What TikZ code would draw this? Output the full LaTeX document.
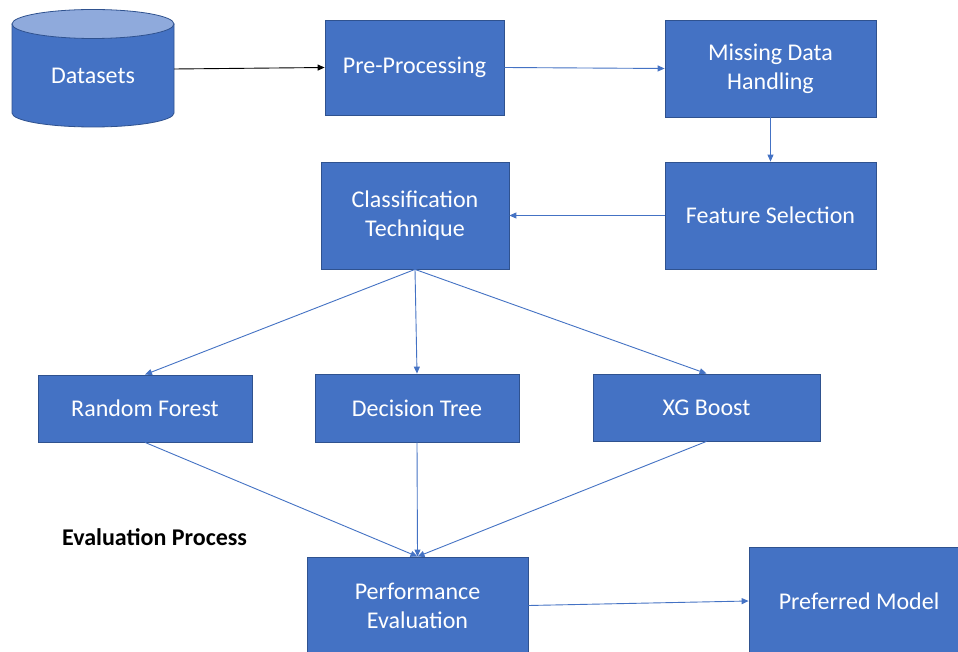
\documentclass[tikz,border=0pt]{standalone}
\usepackage{fontspec}
\setmainfont{Carlito}
\usetikzlibrary{arrows.meta}
\definecolor{boxblue}{HTML}{4472C4}
\definecolor{boxedge}{HTML}{2F528F}
\definecolor{toplight}{HTML}{8FAADC}
\definecolor{linkblue}{HTML}{4472C4}
\begin{document}
\begin{tikzpicture}[x=1pt,y=-1pt,
  every node/.style={font=\fontsize{24}{29}\selectfont},
  blk/.style={draw=boxedge, line width=0.8pt, fill=boxblue, text=white,
    align=center, inner sep=0pt},
  link/.style={draw=linkblue, line width=0.9pt,
    -{Triangle[length=7pt,width=6pt]}},
  blacklink/.style={draw=black, line width=0.9pt,
    -{Triangle[length=7pt,width=6pt]}}]
\useasboundingbox (0,0) rectangle (958,652);
\clip (0,0) rectangle (958,652);
\fill[white] (0,0) rectangle (958,652);

% database cylinder
\filldraw[fill=boxblue, draw=boxedge, line width=0.8pt]
  (12,24) -- (12,113)
  arc[start angle=180, end angle=360, x radius=81pt, y radius=14pt]
  -- (174,24) -- cycle;
\filldraw[fill=toplight, draw=boxedge, line width=0.8pt]
  (93,24) ellipse [x radius=81pt, y radius=14.5pt];
\node[minimum width=162pt, minimum height=117pt, inner sep=0pt] (ds) at (93,69) {};
\node[text=white] (dslabel) at (93,76) {Datasets};

% process boxes
\node[blk, minimum width=179pt, minimum height=95pt]  (pp) at (414.5,67.5) {Pre-Processing};
\node[blk, minimum width=211pt, minimum height=97pt]  (md) at (770.5,68.5) {Missing Data\\Handling};
\node[blk, minimum width=211pt, minimum height=107pt] (fs) at (770.5,215.5) {Feature Selection};
\node[blk, minimum width=188pt, minimum height=107pt] (ct) at (415,215.5) {Classification\\Technique};
\node[blk, minimum width=214pt, minimum height=67pt]  (rf) at (145,408.5) {Random Forest};
\node[blk, minimum width=204pt, minimum height=68pt]  (dt) at (417,408) {Decision Tree};
\node[blk, minimum width=227pt, minimum height=67pt]  (xg) at (706.5,407.5) {XG Boost};
\node[blk, minimum width=221pt, minimum height=97pt]  (pe) at (417.5,605.5) {Performance\\Evaluation};
\node[blk, minimum width=220pt, minimum height=108pt] (pm) at (859,601) {Preferred Model};

\node[font=\fontsize{24}{29}\selectfont\bfseries, anchor=west, inner sep=0pt] (evp) at (62,537) {Evaluation Process};

% connectors
\draw[blacklink] (ds.east) -- (pp.west);
\draw[link] (pp.east) -- (md.west);
\draw[link] (md.south) -- (fs.north);
\draw[link] (fs.west) -- (ct.east);
\draw[link] (ct.south) -- (rf.north);
\draw[link] (ct.south) -- (dt.north);
\draw[link] (ct.south) -- (xg.north);
\draw[link] (rf.south) -- (pe.north);
\draw[link] (dt.south) -- (pe.north);
\draw[link] (xg.south) -- (pe.north);
\draw[link] (pe.east) -- (pm.west);
\end{tikzpicture}
\end{document}
